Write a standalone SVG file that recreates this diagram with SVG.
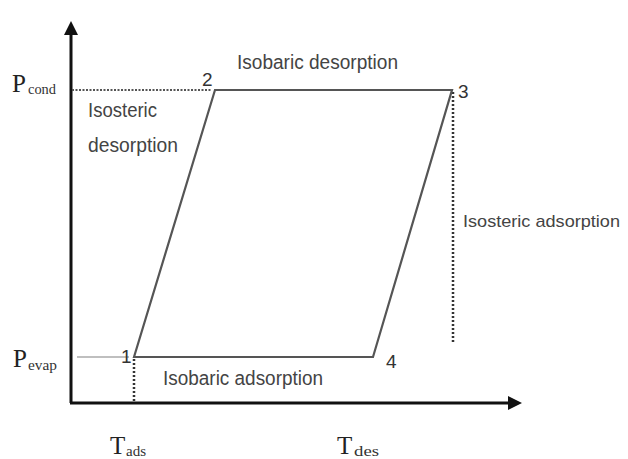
<svg xmlns="http://www.w3.org/2000/svg" width="628" height="459" viewBox="0 0 628 459">
<style>
.lbl{font-family:"Liberation Sans",Arial,sans-serif;font-size:20px;fill:#444}
.num{font-family:"Liberation Sans",Arial,sans-serif;font-size:19px;fill:#333}
.ax{font-family:"Liberation Serif","Times New Roman",serif;font-size:25px;fill:#222}
.sub{font-family:"Liberation Serif","Times New Roman",serif;font-size:15px;fill:#333}
.cyc{stroke:#555;stroke-width:2.2;fill:none}
.axis{stroke:#111;stroke-width:3;fill:none}
.dot{stroke:#333;stroke-width:2.5;stroke-dasharray:2 2;fill:none}
</style>
<defs>
<marker id="ah" viewBox="0 0 14 14" refX="2" refY="7" markerWidth="14" markerHeight="14" markerUnits="userSpaceOnUse" orient="auto">
<path d="M0,0 L14,7 L0,14 Z" fill="#111"/>
</marker>
</defs>
<g id="connectors">
<line class="axis" x1="71" y1="403" x2="71" y2="33" marker-end="url(#ah)"/>
<line class="axis" x1="70" y1="403" x2="510" y2="403" marker-end="url(#ah)"/>
<line x1="72" y1="90" x2="211" y2="90" stroke="#555" stroke-width="2" stroke-dasharray="2 1.5"/>
<line x1="77" y1="357" x2="129" y2="357" stroke="#aaa" stroke-width="1.5"/>
<line class="dot" x1="134" y1="359" x2="134" y2="403" stroke-width="1.5"/>
<line class="dot" x1="453" y1="92" x2="453" y2="343"/>
<path class="cyc" d="M134,357 L215,90 L452,90 L373,357 Z"/>
</g>
<g id="axis-labels">
<text class="ax" x="12" y="92">P</text><text class="sub" x="28" y="94" textLength="28" lengthAdjust="spacingAndGlyphs">cond</text>
<text class="ax" x="13" y="367">P</text><text class="sub" x="28" y="370" textLength="29" lengthAdjust="spacingAndGlyphs">evap</text>
<text class="ax" x="110" y="454">T</text><text class="sub" x="126" y="456" textLength="20" lengthAdjust="spacingAndGlyphs">ads</text>
<text class="ax" x="337" y="454">T</text><text class="sub" x="354" y="456" textLength="25" lengthAdjust="spacingAndGlyphs">des</text>
</g>
<g id="node-1"><text class="num" x="121" y="363">1</text></g>
<g id="node-2"><text class="num" x="202" y="86">2</text></g>
<g id="node-3"><text class="num" x="458" y="98">3</text></g>
<g id="node-4"><text class="num" x="386" y="368">4</text></g>
<g id="label-isobaric-desorption"><text class="lbl" x="237" y="69" textLength="161" lengthAdjust="spacingAndGlyphs">Isobaric desorption</text></g>
<g id="label-isosteric-desorption">
<text class="lbl" x="88" y="117" textLength="69" lengthAdjust="spacingAndGlyphs">Isosteric</text>
<text class="lbl" x="88" y="152" textLength="90" lengthAdjust="spacingAndGlyphs">desorption</text>
</g>
<g id="label-isosteric-adsorption"><text class="lbl" x="463" y="227" style="font-size:17px" textLength="157" lengthAdjust="spacingAndGlyphs">Isosteric adsorption</text></g>
<g id="label-isobaric-adsorption"><text class="lbl" x="163" y="385" textLength="160" lengthAdjust="spacingAndGlyphs">Isobaric adsorption</text></g>
</svg>
